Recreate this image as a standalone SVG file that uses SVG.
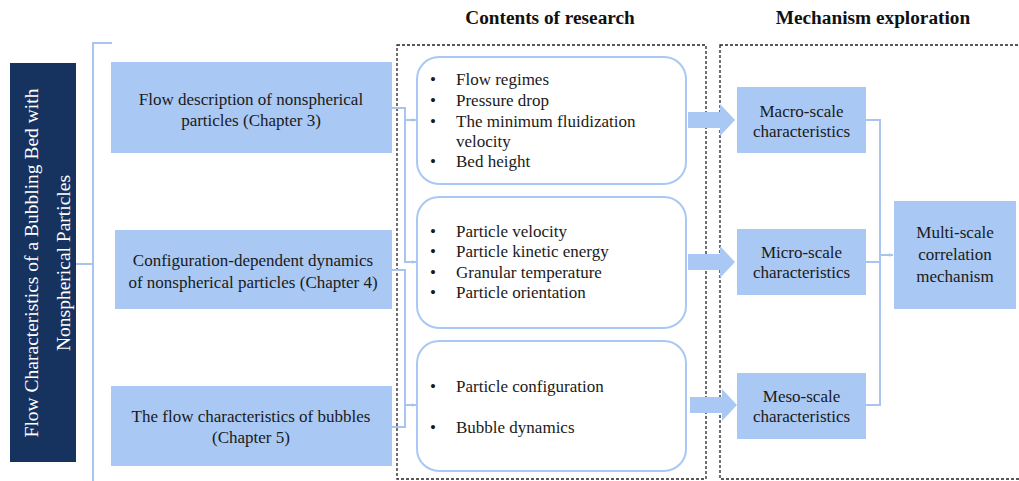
<svg xmlns="http://www.w3.org/2000/svg" width="1019" height="481" viewBox="0 0 1019 481">
<style>
.t{font-family:"Liberation Serif","Times New Roman",serif;font-size:17px;fill:#1a1a1a}
.c{text-anchor:middle}
.h{font-family:"Liberation Serif","Times New Roman",serif;font-size:19.3px;font-weight:bold;fill:#111;text-anchor:middle}
.v{font-family:"Liberation Serif","Times New Roman",serif;font-size:19.5px;fill:#fff;text-anchor:middle}
.box{fill:#a9c8f3}
.rb{fill:#fff;stroke:#a9c8f3;stroke-width:2}
.ln{fill:none;stroke:#a9c5ee;stroke-width:2}
.dash{fill:none;stroke:#222;stroke-width:1.3;stroke-dasharray:3 2}
.blk{fill:#a9c8f3}
</style>
<defs>
<marker id="ah" viewBox="0 0 10 10" refX="9" refY="5" markerWidth="5" markerHeight="5" orient="auto" markerUnits="userSpaceOnUse">
<path d="M0,1 L10,5 L0,9 z" fill="#a9c5ee"/>
</marker>
</defs>

<text class="h" x="550" y="24">Contents of research</text>
<text class="h" x="873" y="24">Mechanism exploration</text>

<rect class="dash" x="397" y="45" width="309" height="434"/>
<rect class="dash" x="720" y="45" width="310" height="434"/>

<g id="title">
<rect x="10" y="63" width="66" height="399" fill="#15335e"/>
<text class="v" transform="translate(38,263) rotate(-90)">Flow Characteristics of a Bubbling Bed with</text>
<text class="v" transform="translate(70,263) rotate(-90)">Nonspherical Particles</text>
</g>

<g id="connectors">
<path class="ln" d="M76,264 H93"/>
<path class="ln" d="M112,43 H93 V481"/>
<path class="ln" d="M392,108 H405 V262 H416" marker-end="url(#ah)"/>
<path class="ln" d="M405,120 H416" marker-end="url(#ah)"/>
<path class="ln" d="M392,270 H405 V427 H392"/>
<path class="ln" d="M405,405 H416" marker-end="url(#ah)"/>
<path class="ln" d="M866,120 H880 V405 H866"/>
<path class="ln" d="M866,262 H880"/>
<path class="ln" d="M880,255 H893" marker-end="url(#ah)"/>
<path class="blk" d="M688,112 H720 V104 L735,120 L720,136 V128 H688 z"/>
<path class="blk" d="M688,254 H720 V246 L735,262 L720,278 V270 H688 z"/>
<path class="blk" d="M690,397 H722 V389 L737,405 L722,421 V413 H690 z"/>
</g>

<g id="ch3">
<rect class="box" x="111" y="62" width="281" height="91"/>
<text class="t c" x="251" y="105">Flow description of nonspherical</text>
<text class="t c" x="251" y="126">particles (Chapter 3)</text>
</g>
<g id="ch4">
<rect class="box" x="115" y="230" width="277" height="79"/>
<text class="t c" x="253" y="266">Configuration-dependent dynamics</text>
<text class="t c" x="253" y="288">of nonspherical particles (Chapter 4)</text>
</g>
<g id="ch5">
<rect class="box" x="111" y="386" width="281" height="80"/>
<text class="t c" x="251" y="422">The flow characteristics of bubbles</text>
<text class="t c" x="251" y="443">(Chapter 5)</text>
</g>

<g id="research1">
<rect class="rb" x="417" y="57" width="269" height="127" rx="22"/>
<text class="t" x="430" y="85">•</text><text class="t" x="456" y="85">Flow regimes</text>
<text class="t" x="430" y="106">•</text><text class="t" x="456" y="106">Pressure drop</text>
<text class="t" x="430" y="127">•</text><text class="t" x="456" y="127">The minimum fluidization</text>
<text class="t" x="456" y="147">velocity</text>
<text class="t" x="430" y="167">•</text><text class="t" x="456" y="167">Bed height</text>
</g>
<g id="research2">
<rect class="rb" x="417" y="197" width="269" height="131" rx="22"/>
<text class="t" x="430" y="237">•</text><text class="t" x="456" y="237">Particle velocity</text>
<text class="t" x="430" y="257">•</text><text class="t" x="456" y="257">Particle kinetic energy</text>
<text class="t" x="430" y="278">•</text><text class="t" x="456" y="278">Granular temperature</text>
<text class="t" x="430" y="298">•</text><text class="t" x="456" y="298">Particle orientation</text>
</g>
<g id="research3">
<rect class="rb" x="417" y="341" width="269" height="130" rx="22"/>
<text class="t" x="430" y="392">•</text><text class="t" x="456" y="392">Particle configuration</text>
<text class="t" x="430" y="433">•</text><text class="t" x="456" y="433">Bubble dynamics</text>
</g>

<g id="macro">
<rect class="box" x="737" y="87" width="129" height="66"/>
<text class="t c" x="801.5" y="117">Macro-scale</text>
<text class="t c" x="801.5" y="137">characteristics</text>
</g>
<g id="micro">
<rect class="box" x="737" y="229" width="129" height="66"/>
<text class="t c" x="801.5" y="258">Micro-scale</text>
<text class="t c" x="801.5" y="278">characteristics</text>
</g>
<g id="meso">
<rect class="box" x="737" y="373" width="129" height="66"/>
<text class="t c" x="801.5" y="402">Meso-scale</text>
<text class="t c" x="801.5" y="422">characteristics</text>
</g>
<g id="multi">
<rect class="box" x="894" y="201" width="122" height="108"/>
<text class="t c" x="955" y="238">Multi-scale</text>
<text class="t c" x="955" y="260">correlation</text>
<text class="t c" x="955" y="282">mechanism</text>
</g>
</svg>
